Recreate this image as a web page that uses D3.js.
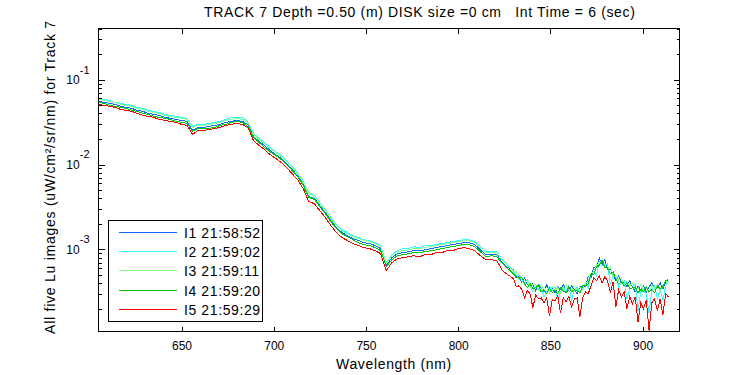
<!DOCTYPE html>
<html><head><meta charset="utf-8">
<script src="https://cdn.jsdelivr.net/npm/d3@7"></script>
<style>
body{margin:0;background:#fff}
svg{display:block}
text{font-family:"Liberation Sans",Arial,Helvetica,sans-serif;fill:#000}
</style>
</head><body>
<svg id="chart" width="750" height="375"></svg>
<script>
// ---------- DATA ----------
const titleText = "TRACK 7 Depth =0.50 (m) DISK size =0 cm   Int Time = 6 (sec)";
const xLabelText = "Wavelength (nm)";
const yLabelText = "All five Lu images (uW/cm\u00B2/sr/nm) for Track 7";
const seriesNames = ["I1 21:58:52", "I2 21:59:02", "I3 21:59:11", "I4 21:59:20", "I5 21:59:29"];
const seriesColors = ["#0a6cff", "#33ffff", "#88ff88", "#00c800", "#ff0000"];
const xTickValues = [650, 700, 750, 800, 850, 900];
const yMajorTickValues = [1e-3, 1e-2, 1e-1];
const yTickExponents = ["-3", "-2", "-1"];

const wavelengths = [605,608,611,614,617,620,623,626,629,632,635,638,641,644,647,650,653,656,659,662,665,668,671,674,677,680,683,686,689,692,695,698,701,704,707,710,713,716,719,722,725,728,731,734,737,740,743,746,749,752,755,758,761,764,767,770,773,776,779,782,785,788,791,794,797,800,803,806,809,812,815,818,821,824,827,
830,831.5,833,834.5,836,837.5,839,840.5,842,843.5,845,846.5,848,849.5,851,852.5,854,855.5,857,858.5,860,861.5,863,864.5,866,867.5,869,870.5,872,873.5,875,876.5,878,879.5,881,882.5,884,885.5,887,888.5,890,891.5,893,894.5,896,897.5,899,900.5,902,903.5,905,906.5,908,909.5,911,912.5,914];

const luI1 = [0.0555,0.0540,0.0525,0.0511,0.0484,0.0471,0.0459,0.0434,0.0423,0.0400,
0.0390,0.0379,0.0359,0.0350,0.0340,0.0331,0.0322,0.0252,0.0274,0.0274,
0.0281,0.0289,0.0297,0.0314,0.0322,0.0331,0.0322,0.0297,0.0214,0.0187,
0.0168,0.0146,0.0131,0.0118,0.0103,0.0087,0.0074,0.0058,0.0042,0.0040,
0.00328,0.00271,0.00218,0.00181,0.00158,0.00145,0.00134,0.00127,0.00120,0.00117,
0.00111,0.00102,0.000643,0.000798,0.00089,0.000915,0.00094,0.000966,0.000966,0.00099,
0.00102,0.00105,0.00108,0.00111,0.00114,0.00117,0.00120,0.00120,0.00114,0.00099,
0.000866,0.000866,0.000866,0.000697,0.000609,
0.000576,0.000477,0.000477,0.000405,0.000464,0.000384,0.000363,0.000394,0.000326,0.000384,
0.000344,0.000317,0.000384,0.000317,0.000344,0.000309,0.000363,0.000335,0.000384,0.000317,
0.000326,0.000373,0.000335,0.0003,0.000363,0.000373,0.000363,0.000477,0.000464,0.000609,
0.000609,0.000798,0.00066,0.000756,0.000576,0.000592,0.000503,0.000428,0.00049,0.000405,
0.000416,0.000363,0.000428,0.000363,0.000317,0.000373,0.000326,0.000373,0.000309,0.000363,
0.000405,0.000344,0.000354,0.000405,0.000344,0.000416,0.000451];

const luI2 = [0.0602,0.0586,0.0570,0.0540,0.0525,0.0511,0.0498,0.0471,0.0459,0.0434,
0.0423,0.0411,0.0390,0.0379,0.0369,0.0359,0.0350,0.0281,0.0297,0.0297,
0.0305,0.0314,0.0322,0.0340,0.0359,0.0359,0.0359,0.0322,0.0233,0.0203,
0.0182,0.0159,0.0142,0.0128,0.0111,0.0095,0.0080,0.0063,0.0047,0.0043,
0.00356,0.00294,0.00237,0.00196,0.00171,0.00158,0.00145,0.00138,0.00130,0.00127,
0.00120,0.00111,0.000697,0.000866,0.000966,0.00102,0.00102,0.00108,0.00105,0.00111,
0.00111,0.00114,0.00117,0.00120,0.00124,0.00127,0.00130,0.00130,0.00124,0.00108,
0.00094,0.00094,0.00094,0.000756,0.00066,
0.000561,0.00049,0.000503,0.000439,0.000394,0.000439,0.000373,0.000317,0.000384,0.000326,
0.000354,0.000277,0.000317,0.000363,0.000326,0.000363,0.000262,0.000317,0.000354,0.000326,
0.000373,0.000248,0.000335,0.000363,0.000309,0.000344,0.000405,0.000354,0.000517,0.000546,
0.00049,0.000716,0.000643,0.00066,0.000678,0.000384,0.00049,0.00049,0.000363,0.000394,
0.000428,0.000262,0.000344,0.000354,0.000394,0.000189,0.000317,0.000335,0.000292,0.000179,
0.000335,0.000373,0.000262,0.000335,0.000248,0.000373,0.000428];

const luI3 = [0.0586,0.0570,0.0555,0.0540,0.0511,0.0498,0.0484,0.0459,0.0446,0.0423,
0.0411,0.0400,0.0379,0.0369,0.0359,0.0350,0.0340,0.0274,0.0289,0.0289,
0.0297,0.0305,0.0314,0.0331,0.0340,0.0350,0.0340,0.0314,0.0226,0.0198,
0.0177,0.0155,0.0139,0.0124,0.0109,0.0092,0.0078,0.0061,0.0045,0.0042,
0.00346,0.00286,0.00230,0.00191,0.00166,0.00153,0.00141,0.00134,0.00127,0.00124,
0.00117,0.00108,0.000678,0.000843,0.00094,0.000966,0.00099,0.00102,0.00102,0.00105,
0.00108,0.00111,0.00114,0.00117,0.00120,0.00124,0.00127,0.00127,0.00120,0.00105,
0.000915,0.000915,0.000915,0.000736,0.000643,
0.000546,0.000546,0.000439,0.000464,0.000405,0.000428,0.000354,0.000384,0.000384,0.000335,
0.000384,0.000335,0.000354,0.000309,0.000363,0.000326,0.000354,0.000309,0.000363,0.000384,
0.000335,0.000326,0.000373,0.000335,0.000363,0.000335,0.000405,0.000416,0.000531,0.000531,
0.00066,0.00066,0.000756,0.000643,0.000592,0.000625,0.000477,0.00049,0.000428,0.000464,
0.000363,0.000416,0.000373,0.000405,0.000335,0.000344,0.000384,0.000326,0.000354,0.000309,
0.000384,0.000344,0.000384,0.000317,0.000373,0.000428,0.000384];

const luI4 = [0.0540,0.0525,0.0498,0.0484,0.0471,0.0459,0.0434,0.0423,0.0400,0.0390,
0.0369,0.0359,0.0350,0.0340,0.0322,0.0314,0.0305,0.0246,0.0266,0.0266,
0.0266,0.0274,0.0289,0.0297,0.0314,0.0322,0.0314,0.0281,0.0209,0.0182,
0.0159,0.0142,0.0128,0.0115,0.0100,0.0085,0.0072,0.00565,0.0041,0.0039,
0.00319,0.00264,0.00212,0.00176,0.00153,0.00141,0.00130,0.00120,0.00114,0.00111,
0.00105,0.000966,0.000625,0.000756,0.000843,0.000866,0.00089,0.000915,0.000915,0.00094,
0.000966,0.00099,0.00102,0.00105,0.00108,0.00111,0.00114,0.00114,0.00108,0.00094,
0.00082,0.000843,0.00082,0.000678,0.000592,
0.000517,0.000464,0.000464,0.000464,0.000394,0.000354,0.000394,0.000344,0.000354,0.000373,
0.000317,0.000335,0.0003,0.000354,0.000309,0.000335,0.0003,0.000354,0.000326,0.000309,
0.000363,0.000317,0.000335,0.000326,0.000309,0.000373,0.000373,0.000394,0.000517,0.000503,
0.000625,0.000643,0.000756,0.000609,0.000609,0.000517,0.000546,0.000451,0.000394,0.000416,
0.000373,0.000405,0.000344,0.000354,0.000363,0.000309,0.000335,0.000317,0.000363,0.000317,
0.000335,0.000309,0.000373,0.000344,0.000363,0.000428,0.000451];

const luI5 = [0.0511,0.0498,0.0484,0.0471,0.0446,0.0434,0.0423,0.0400,0.0379,0.0369,
0.0359,0.0340,0.0331,0.0322,0.0314,0.0297,0.0289,0.0226,0.0252,0.0252,
0.0259,0.0266,0.0274,0.0289,0.0297,0.0305,0.0297,0.0274,0.0192,0.0168,
0.0150,0.0131,0.0118,0.0106,0.0092,0.0078,0.0066,0.0052,0.00366,0.00346,
0.00286,0.00237,0.00191,0.00158,0.00138,0.00127,0.00117,0.00111,0.00105,0.00102,
0.000966,0.00089,0.000561,0.000697,0.000777,0.000798,0.00082,0.000843,0.00082,0.000866,
0.000866,0.000915,0.000915,0.000966,0.000966,0.00102,0.00105,0.00102,0.000966,0.000843,
0.000756,0.000756,0.000736,0.000561,0.000503,
0.000451,0.000363,0.000373,0.000335,0.000269,0.000326,0.0003,0.000205,0.000292,0.000262,
0.000269,0.000235,0.000269,0.000165,0.000255,0.000248,0.000284,0.000179,0.000269,0.000242,
0.000277,0.000211,0.000262,0.000269,0.000161,0.000269,0.000317,0.0003,0.000373,0.000464,
0.000428,0.00049,0.000405,0.000477,0.000428,0.000309,0.000416,0.000211,0.000335,0.000277,
0.000317,0.0002,0.000277,0.000229,0.000277,0.00014,0.000235,0.0002,0.000255,0.00011,
0.000235,0.000262,0.000189,0.000262,0.00017,0.0003,0.000277];

const seriesValues = [luI1, luI2, luI3, luI4, luI5];

// ---------- LAYOUT ----------
const W = 750, H = 375;
const plot = {left: 98.5, top: 28.5, right: 679.5, bottom: 331.5};
const svg = d3.select("#chart");
svg.append("rect").attr("width", W).attr("height", H).attr("fill", "#fff");

const x = d3.scaleLinear().domain([605, 920]).range([plot.left, plot.right]);
const y = d3.scaleLog().domain([1.08e-4, 0.4]).range([plot.bottom, plot.top]);

svg.append("defs").append("clipPath").attr("id", "clip")
  .append("rect").attr("x", plot.left).attr("y", plot.top)
  .attr("width", plot.right - plot.left).attr("height", plot.bottom - plot.top);

// lines
const line = d3.line().x((d, i) => x(wavelengths[i])).y(d => y(d));
const lines = svg.append("g").attr("clip-path", "url(#clip)");
seriesValues.forEach((vals, k) => {
  lines.append("path").datum(vals)
    .attr("d", line)
    .attr("fill", "none")
    .attr("stroke", seriesColors[k])
    .attr("stroke-width", 1)
    .attr("shape-rendering", "crispEdges");
});

// axes
function styleAxis(g) {
  g.select(".domain").remove();
  g.selectAll(".tick line").attr("stroke", "#000").attr("shape-rendering", "crispEdges");
  g.selectAll(".tick text").attr("font-size", 12).attr("font-family", "'Liberation Sans',Arial,sans-serif").attr("fill", "#000");
}
svg.append("g").attr("transform", `translate(0,${plot.bottom})`)
  .call(d3.axisBottom(x).tickValues(xTickValues).tickSize(-5).tickPadding(10).tickFormat(d3.format("d")))
  .call(styleAxis);
svg.append("g").attr("transform", `translate(0,${plot.top})`)
  .call(d3.axisTop(x).tickValues(xTickValues).tickSize(-5).tickFormat(""))
  .call(styleAxis);

const minorY = y.ticks().filter(v => !yMajorTickValues.some(m => Math.abs(m - v) / m < 1e-6));
const leftMajor = svg.append("g").attr("transform", `translate(${plot.left},0)`)
  .call(d3.axisLeft(y).tickValues(yMajorTickValues).tickSize(-6).tickPadding(9).tickFormat(() => "10"))
  .call(styleAxis);
leftMajor.selectAll(".tick text").each(function(d, i) {
  d3.select(this).append("tspan").attr("dy", "-0.95em").attr("font-size", 11).text(yTickExponents[i]);
});
svg.append("g").attr("transform", `translate(${plot.left},0)`)
  .call(d3.axisLeft(y).tickValues(minorY).tickSize(-3).tickFormat(""))
  .call(styleAxis);
svg.append("g").attr("transform", `translate(${plot.right},0)`)
  .call(d3.axisRight(y).tickValues(yMajorTickValues).tickSize(-6).tickFormat(""))
  .call(styleAxis);
svg.append("g").attr("transform", `translate(${plot.right},0)`)
  .call(d3.axisRight(y).tickValues(minorY).tickSize(-3).tickFormat(""))
  .call(styleAxis);

// box
svg.append("rect").attr("x", plot.left).attr("y", plot.top)
  .attr("width", plot.right - plot.left).attr("height", plot.bottom - plot.top)
  .attr("fill", "none").attr("stroke", "#000").attr("shape-rendering", "crispEdges");

// title and labels
svg.append("text").attr("x", 204).attr("y", 17).attr("font-size", 14)
  .style("white-space", "pre").attr("letter-spacing", 0.65).text(titleText);
svg.append("text").attr("x", 394).attr("y", 369)
  .attr("text-anchor", "middle").attr("font-size", 14).attr("letter-spacing", 0.65).text(xLabelText);
svg.append("text").attr("transform", `translate(55,177) rotate(-90)`)
  .attr("text-anchor", "middle").attr("font-size", 14).attr("letter-spacing", 0.75).text(yLabelText);

// legend
const lg = svg.append("g");
lg.append("rect").attr("x", 108.5).attr("y", 220.5).attr("width", 154).attr("height", 101)
  .attr("fill", "#fff").attr("stroke", "#000").attr("shape-rendering", "crispEdges");
seriesNames.forEach((name, k) => {
  const yy = Math.round(232 + k * 19.2) + 0.5;
  lg.append("line").attr("x1", 119).attr("x2", 177).attr("y1", yy).attr("y2", yy)
    .attr("stroke", seriesColors[k]).attr("stroke-width", 1).attr("shape-rendering", "crispEdges");
  lg.append("text").attr("x", 184).attr("y", yy + 5).attr("font-size", 14)
    .attr("letter-spacing", 0.6).text(name);
});
</script>
</body></html>
